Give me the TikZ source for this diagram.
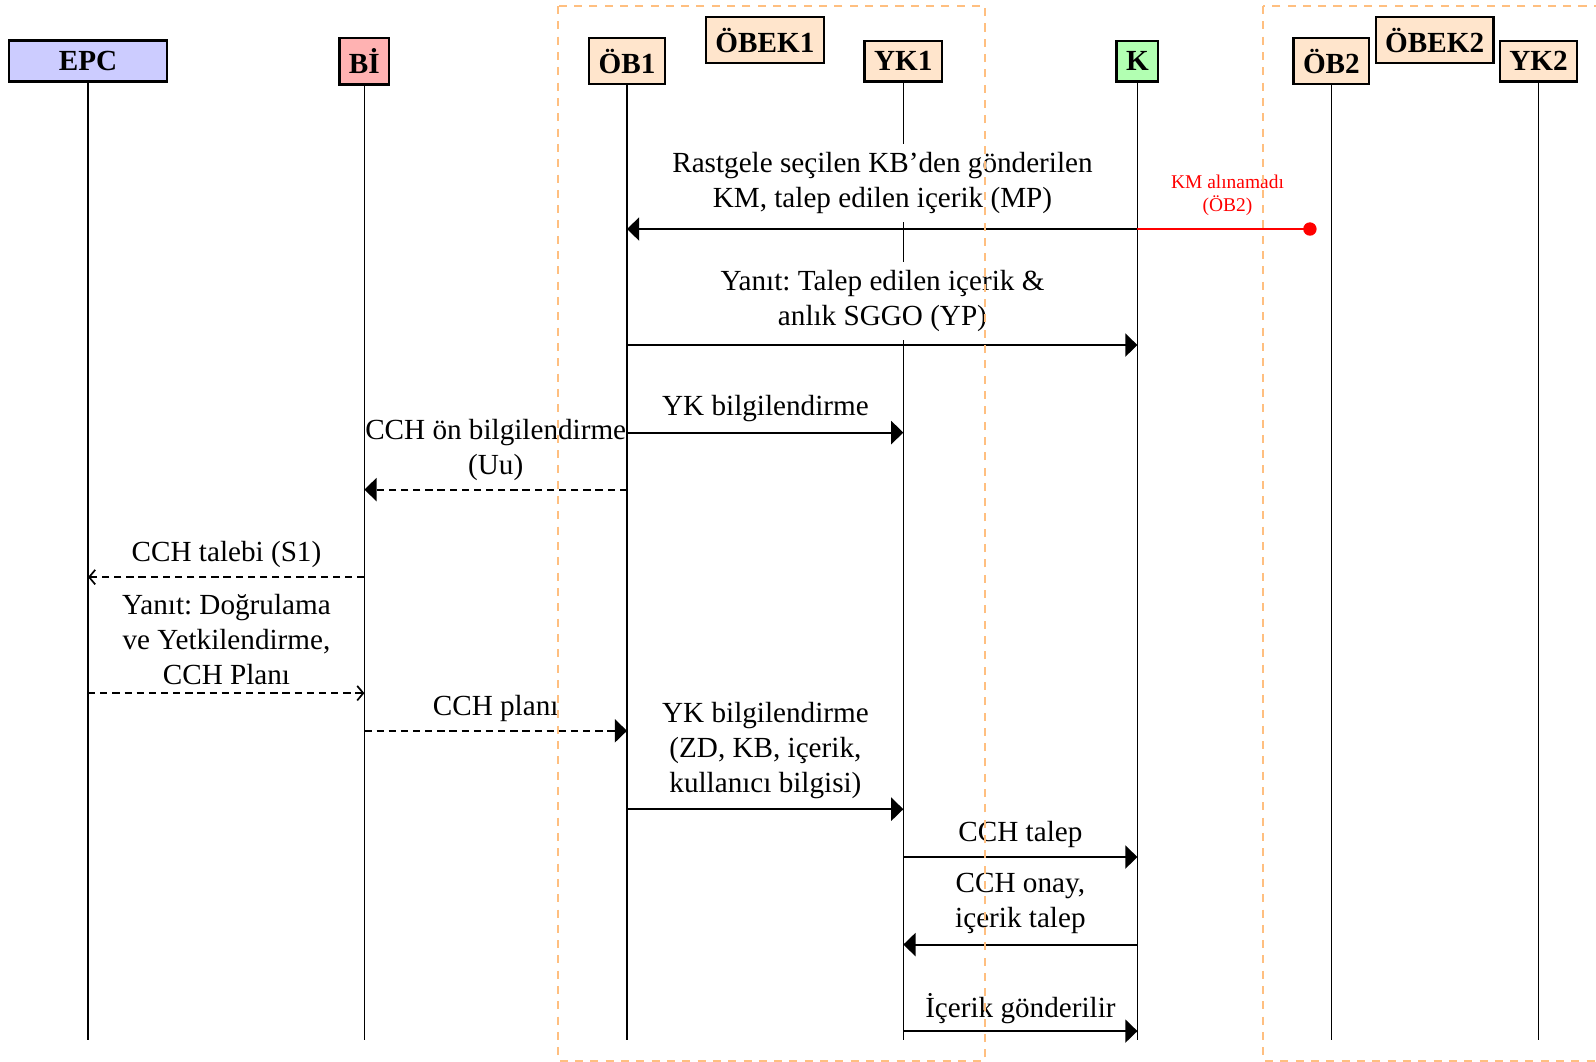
\documentclass[tikz,border=0pt]{standalone}
\usepackage{fontspec}
\setmainfont{Liberation Serif}
\usetikzlibrary{arrows.meta}
\frenchspacing

\begin{document}
\begin{tikzpicture}[x=4.188pt, y=-4.188pt, >={Triangle[length=5pt,width=9.5pt]}, line width=0.65pt,
		every node/.style={font=\fontsize{12}{14.4}\selectfont},
		actor/.style={draw, line width=1pt, inner xsep=3.9pt, inner ysep=4.4pt, font=\fontsize{12}{14.4}\selectfont\bfseries},
		lbl/.style={align=center},
		msg/.style={->, line width=0.8pt},
		ret/.style={->, line width=0.8pt, dash pattern=on 3pt off 2pt},
		epcmsg/.style={-{Straight Barb[length=2.5pt,width=6pt]}, line width=0.7pt, dash pattern=on 3pt off 2pt},
		grp/.style={draw=orange!50, line width=0.8pt, dash pattern=on 3.3pt off 3pt}]
	\useasboundingbox (0,0) rectangle (156.8,104.3);
	
	% Başlık kutuları
	\node[actor, fill=blue!20, minimum width=64.9pt] (epc) at (8.65,6) {EPC};
	\node[actor, fill=red!30] (bi) at (35.8,6) {Bİ};
	\node[actor, fill=orange!20] (ob1) at (61.6,6) {ÖB1};
	\node[actor, fill=orange!20] (obek1) at (75.15,3.95) {ÖBEK1};
	\node[actor, fill=orange!20] (yk1) at (88.75,6) {YK1};
	\node[actor, fill=green!30] (k) at (111.75,6) {K};
	\node[actor, fill=orange!20] (ob2) at (130.8,6) {ÖB2};
	\node[actor, fill=orange!20] (obek2) at (140.95,3.95) {ÖBEK2};
	\node[actor, fill=orange!20] (yk2) at (151.15,6) {YK2};
	
	% Yaşam çizgileri
	\coordinate (son) at (0,102.2);
	\foreach \a in {epc,bi,ob1,yk1,k,ob2,yk2}
		\draw (\a.south) -- (\a |- son);
	
	% Mesaj satırları
	\foreach \n/\y in {1/22.5, 2/33.9, 3/42.5, 4/48.1, 5/56.7, 6/68.1, 7/71.8, 8/79.5, 9/84.2, 10/92.8, 11/101.3}
		\coordinate (m\n) at (0,\y);
	
	% Mesajlar
	\draw[msg] (k |- m1) -- (ob1 |- m1);
	\draw[msg] (ob1 |- m2) -- (k |- m2);
	\draw[msg] (ob1 |- m3) -- (yk1 |- m3);
	\draw[ret] (ob1 |- m4) -- (bi |- m4);
	\draw[epcmsg] (bi |- m5) -- (epc |- m5);
	\draw[epcmsg] (epc |- m6) -- (bi |- m6);
	\draw[ret] (bi |- m7) -- (ob1 |- m7);
	\draw[msg] (ob1 |- m8) -- (yk1 |- m8);
	\draw[msg] (yk1 |- m9) -- (k |- m9);
	\draw[msg] (k |- m10) -- (yk1 |- m10);
	\draw[msg] (yk1 |- m11) -- (k |- m11);
	
	% ÖB2'ye ulaşmayan KM
	\coordinate (kayip) at (129.35,22.5);
	\draw[red, line width=0.6pt, -{Circle[length=5.5pt]}] (k |- m1) -- (kayip);
	\node[lbl, red, font=\fontsize{8}{9.4}\selectfont] (kayipyazi) at (120.6,19.2) {KM alınamadı\\(ÖB2)};
	
	% Mesaj etiketleri
	\node[lbl, fill=white] (t1) at (86.7,18.0) {Rastgele seçilen KB’den gönderilen\\KM, talep edilen içerik (MP)};
	\node[lbl, fill=white] (t2) at (86.7,29.55) {Yanıt: Talep edilen içerik \&\\anlık SGGO (YP)};
	\node[lbl] (t3) at (75.2,40.1) {YK bilgilendirme};
	\node[lbl] (t4) at (48.7,44.2) {CCH ön bilgilendirme\\(Uu)};
	\node[lbl] (t5) at (22.25,54.5) {CCH talebi (S1)};
	\node[lbl] (t6) at (22.25,62.8) {Yanıt: Doğrulama\\ve Yetkilendirme,\\CCH Planı};
	\node[lbl] (t7) at (48.7,69.6) {CCH planı};
	\node[lbl] (t8) at (75.2,73.7) {YK bilgilendirme\\(ZD, KB, içerik,\\kullanıcı bilgisi)};
	\node[lbl] (t9) at (100.25,82.0) {CCH talep};
	\node[lbl] (t10) at (100.25,88.8) {CCH onay,\\içerik talep};
	\node[lbl] (t11) at (100.25,99.1) {İçerik gönderilir};
	
	% Öbek çerçeveleri
	\draw[grp] (54.8,0.6) rectangle (96.8,104.2);
	\draw[grp] (124.1,0.6) rectangle (165,104.2);
\end{tikzpicture}
\end{document}
